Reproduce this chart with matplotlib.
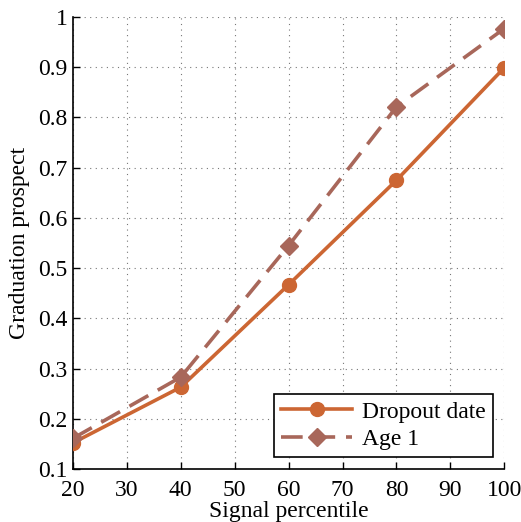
import matplotlib
matplotlib.use("Agg")
import matplotlib.pyplot as plt

plt.rcParams['font.family'] = ['Liberation Serif', 'DejaVu Serif']
plt.rcParams['mathtext.fontset'] = 'stix'

percentile = [20, 40, 60, 80, 100]
dropout_date = [0.152, 0.263, 0.467, 0.675, 0.899]
age_1 = [0.161, 0.283, 0.545, 0.821, 0.977]

orange = '#CC6633'
brown = '#A8675A'

fig = plt.figure(figsize=(5.21, 5.22), dpi=100)
ax = fig.add_axes([0.140, 0.1015, 0.828, 0.866])

ax.plot(percentile, dropout_date, color=orange, lw=2.6, marker='o', ms=10,
        label='Dropout date', zorder=3)
ax.plot(percentile, age_1, color=brown, lw=2.6, ls=(0, (6, 3)), marker='D', ms=9,
        label='Age 1', zorder=3)

ax.set_xlim(20, 100)
ax.set_ylim(0.1, 1.0)
ax.set_xticks(range(20, 101, 10))
ax.set_yticks([0.1, 0.2, 0.3, 0.4, 0.5, 0.6, 0.7, 0.8, 0.9, 1.0])
ax.set_yticklabels(['0.1', '0.2', '0.3', '0.4', '0.5', '0.6', '0.7', '0.8', '0.9', '1'])
ax.tick_params(direction='in', labelsize=17, length=5, width=1)
ax.tick_params(axis='x', pad=8)
ax.tick_params(axis='y', pad=4)
ax.grid(True, ls=(0, (1, 4)), color='#777777', lw=0.8)

for s in ['top', 'right']:
    ax.spines[s].set_visible(False)
for s in ['left', 'bottom']:
    ax.spines[s].set_linewidth(1.2)

ax.set_xlabel('Signal percentile', fontsize=17, labelpad=0)
ax.set_ylabel('Graduation prospect', fontsize=17, labelpad=6)

leg = ax.legend(loc='lower right', fontsize=17, handlelength=3.0, fancybox=False,
                framealpha=1, edgecolor='black', borderaxespad=0.5,
                borderpad=0.3, labelspacing=0.25, handletextpad=0.4)
leg.get_frame().set_linewidth(1.2)

fig.savefig('out.png', dpi=100)
